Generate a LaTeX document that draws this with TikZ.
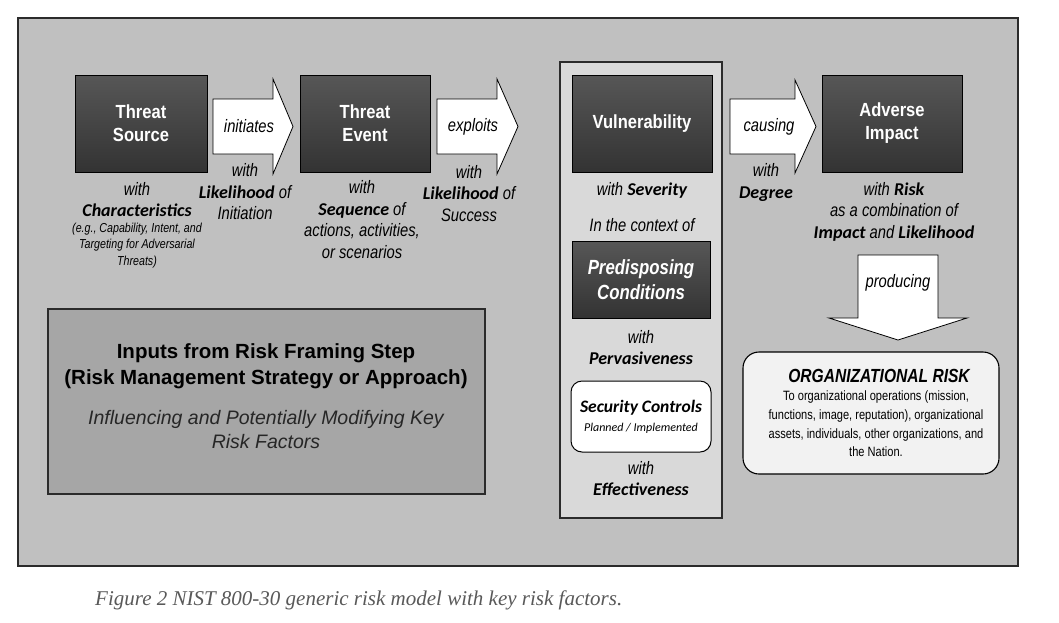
\documentclass[tikz,border=0pt]{standalone}
\usepackage{fontspec}
\setmainfont{Liberation Sans}
\newfontfamily\narrowfont[FakeStretch=0.82]{Liberation Sans}
\newfontfamily\titlefont[FakeStretch=0.87]{Liberation Sans}
\newfontfamily\calfont{Carlito}
\newfontfamily\capfont{Liberation Serif}
\newcommand{\kw}{\calfont\bfseries\itshape}
\definecolor{outerfill}{HTML}{C0C0C0}
\definecolor{panelfill}{HTML}{D9D9D9}
\definecolor{inputfill}{HTML}{A6A6A6}
\definecolor{orgfill}{HTML}{F2F2F2}
\definecolor{capgray}{HTML}{595959}
\definecolor{edge}{HTML}{2B2B2B}
\begin{document}
\begin{tikzpicture}[x=1pt,y=-1pt,
  darkbox/.style={draw=black, line width=0.9pt, top color=black!66, bottom color=black!80,
    minimum height=97pt, inner sep=2pt, text=white, align=center,
    font=\titlefont\bfseries\fontsize{19}{23}\selectfont},
  blockarrow/.style={draw=black, line width=0.8pt, fill=white, line join=miter},
  arrowtext/.style={font=\narrowfont\itshape\fontsize{18}{21.5}\selectfont, inner sep=0pt},
  note/.style={font=\narrowfont\itshape\fontsize{18}{21.5}\selectfont, align=center, inner sep=0pt},
  smallnote/.style={font=\narrowfont\itshape\fontsize{13}{16.5}\selectfont, align=center, inner sep=0pt}
]
\useasboundingbox (0,0) rectangle (1059,622);
\fill[white] (0,0) rectangle (1059,622);

% outer frame and panels
\draw[draw=edge, line width=1.3pt, fill=outerfill] (18,18) rectangle (1018,566);
\draw[draw=edge, line width=1.1pt, fill=panelfill] (560,62) rectangle (722,518);
\node[draw=edge, line width=1.3pt, fill=inputfill, minimum width=437pt, minimum height=185pt, inner sep=0pt] (inputs) at (266.5,401.5) {};

% dark boxes
\node[darkbox, minimum width=132pt] (ts) at (141,123.5) {Threat\\Source};
\node[darkbox, minimum width=130pt] (te) at (365,123.5) {Threat\\Event};
\node[darkbox, minimum width=140pt] (vu) at (642,123.5) {Vulnerability};
\node[darkbox, minimum width=140pt] (ai) at (892,123.5) {Adverse\\Impact};
\node[darkbox, minimum width=138pt, minimum height=77pt,
      font=\narrowfont\bfseries\itshape\fontsize{20.5}{25}\selectfont] (pc) at (641,279.5) {Predisposing\\Conditions};

% block arrows
\draw[blockarrow] (213,99) -- (273,99) -- (273,79) -- (293,126.5) -- (273,174) -- (273,154) -- (213,154) -- cycle;
\draw[blockarrow] (437,99) -- (497,99) -- (497,79) -- (518,126.5) -- (497,174) -- (497,154) -- (437,154) -- cycle;
\draw[blockarrow] (730,99) -- (795,99) -- (795,80) -- (816,126.5) -- (795,173) -- (795,154) -- (730,154) -- cycle;
\draw[blockarrow] (858,255) -- (938,255) -- (938,318) -- (967,318) -- (898,340) -- (829,318) -- (858,318) -- cycle;
\node[arrowtext] (initiates) at (249,126.5) {initiates};
\node[arrowtext] (exploits) at (473,126.5) {exploits};
\node[arrowtext] (causing) at (769,126.5) {causing};
\node[arrowtext] (producing) at (898,283) {producing};

% annotations
\node[note] (tswith) at (137,199.5) {with\\{\kw Characteristics}};
\node[smallnote] (tseg) at (137,245.5) {(e.g., Capability, Intent, and\\Targeting for Adversarial\\Threats)};
\node[note] (liinit) at (245,192) {with\\{\kw Likelihood} of\\Initiation};
\node[note] (teseq) at (362,219.5) {with\\{\kw Sequence} of\\actions, activities,\\or scenarios};
\node[note] (lisucc) at (469,193.5) {with\\{\kw Likelihood} of\\Success};
\node[note] (sev) at (642,190) {with {\kw Severity}};
\node[note] (ctx) at (642,225) {In the context of};
\node[note] (perv) at (641,347.5) {with\\{\kw Pervasiveness}};
\node[draw=black, line width=1pt, fill=white, rounded corners=11pt, minimum width=140pt, minimum height=71pt, align=center, inner sep=0pt,
      font=\calfont\fontsize{17.5}{19}\selectfont] (sc) at (641,416.5)
  {{\bfseries\itshape Security Controls}\\{\itshape\fontsize{12}{19}\selectfont Planned / Implemented}};
\node[note] (eff) at (641,478.5) {with\\{\kw Effectiveness}};
\node[note] (deg) at (766,182.5) {with\\{\kw Degree}};
\node[note] (risk) at (894,211.5) {with {\kw Risk}\\as a combination of\\{\kw Impact} and {\kw Likelihood}};

% organizational risk
\node[draw=black, line width=1.1pt, fill=orgfill, rounded corners=16pt, minimum width=256pt, minimum height=122pt] (org) at (871,413) {};
\node[font=\narrowfont\bfseries\itshape\fontsize{19}{20}\selectfont, inner sep=0pt] (orgtitle) at (879,376) {ORGANIZATIONAL RISK};
\node[font=\narrowfont\fontsize{13.5}{18.7}\selectfont, align=center, inner sep=0pt] (orgtext) at (876,424)
  {To organizational operations (mission,\\functions, image, reputation), organizational\\assets, individuals, other organizations, and\\the Nation.};

% inputs texts
\node[font=\bfseries\fontsize{20.5}{26}\selectfont, align=center, inner sep=0pt] (inputtitle) at (266,366)
  {Inputs from Risk Framing Step\\(Risk Management Strategy or Approach)};
\node[font=\itshape\fontsize{19.5}{24}\selectfont, align=center, inner sep=0pt, text=black!85] (inputsub) at (266,430)
  {Influencing and Potentially Modifying Key\\Risk Factors};

% caption
\node[anchor=base west, inner sep=0pt, text=capgray, font=\capfont\itshape\fontsize{21}{24}\selectfont] (caption) at (95,605)
  {Figure 2 NIST 800-30 generic risk model with key risk factors.};
\end{tikzpicture}
\end{document}
